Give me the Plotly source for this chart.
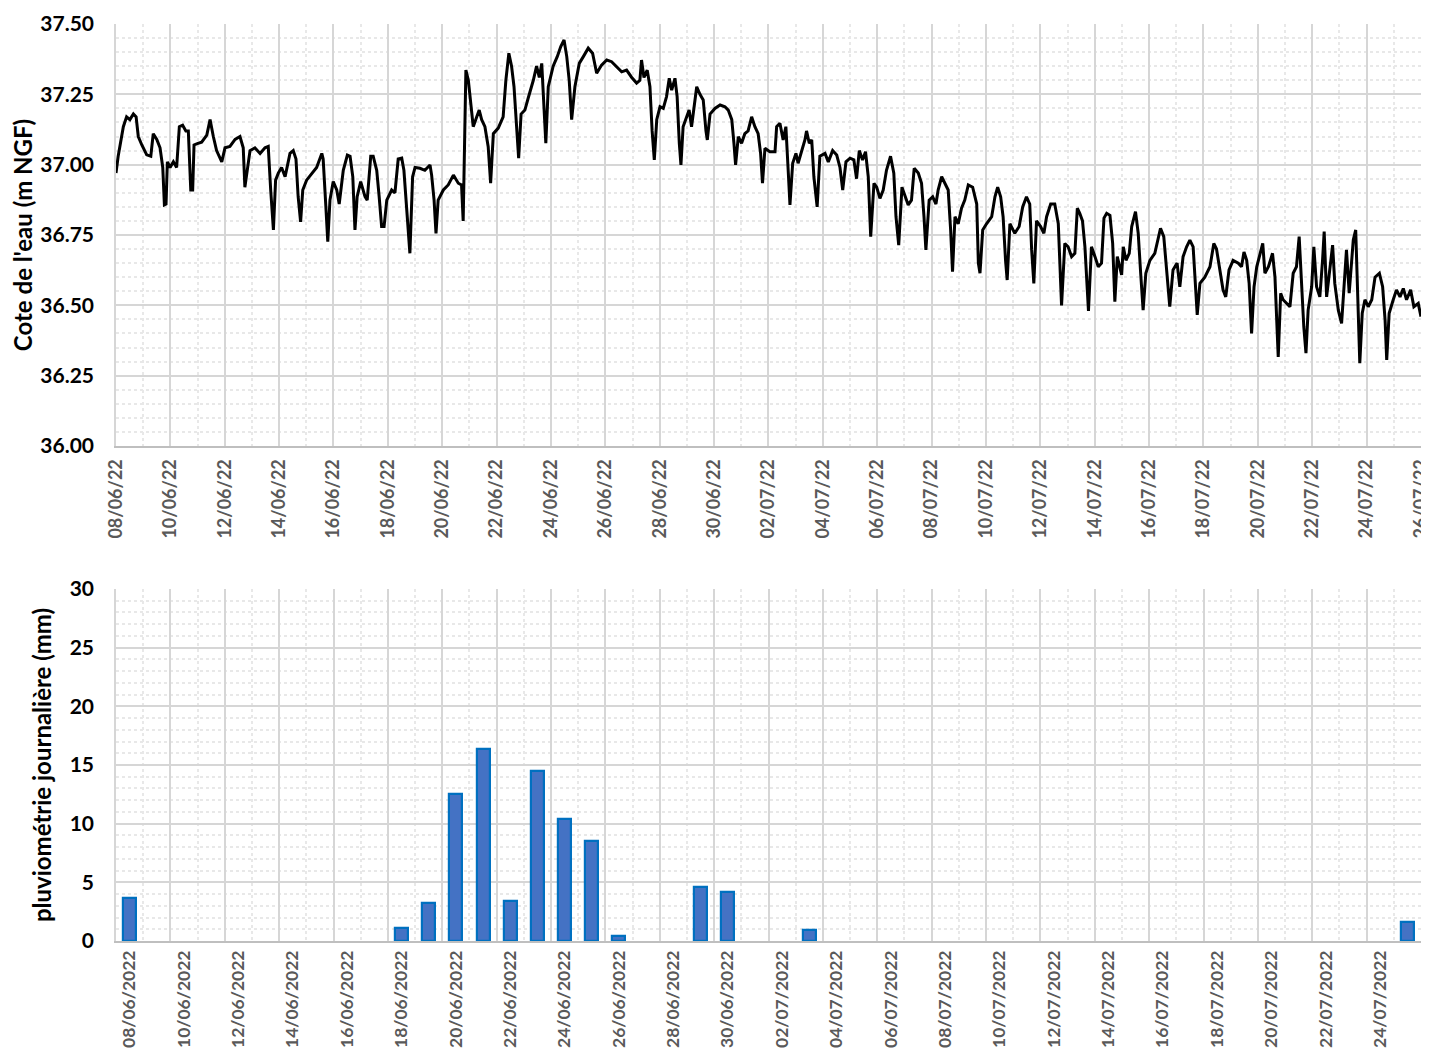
import pandas as pd
import plotly.graph_objects as go

# ---------------- DATA ----------------
series_start = "2022-06-08"

# water level: time offset (days since 08/06/2022 00:00)
level_day_offset = [
    0.00, 0.08, 0.27, 0.39, 0.51, 0.64, 0.74, 0.82, 0.95, 1.13, 1.28, 1.37, 1.50, 1.62, 1.72, 1.78,
    1.84, 1.89, 1.99, 2.11, 2.23, 2.33, 2.45, 2.57, 2.66, 2.75, 2.82, 2.87, 2.99, 3.15, 3.34, 3.46,
    3.58, 3.70, 3.89, 4.01, 4.19, 4.38, 4.56, 4.68, 4.74, 4.83, 4.93, 5.11, 5.30, 5.48, 5.60, 5.69,
    5.79, 5.87, 5.97, 6.09, 6.22, 6.40, 6.52, 6.62, 6.70, 6.79, 6.87, 7.01, 7.20, 7.38, 7.57, 7.62,
    7.72, 7.79, 7.87, 7.99, 8.12, 8.21, 8.36, 8.51, 8.61, 8.71, 8.79, 8.87, 9.00, 9.16, 9.24, 9.37,
    9.46, 9.59, 9.68, 9.77, 9.86, 9.96, 10.14, 10.26, 10.38, 10.51, 10.59, 10.71, 10.81, 10.91, 11.00, 11.18,
    11.36, 11.55, 11.61, 11.70, 11.77, 11.85, 12.04, 12.22, 12.41, 12.59, 12.71, 12.77, 12.87, 12.96, 13.05, 13.14,
    13.27, 13.36, 13.45, 13.57, 13.69, 13.78, 13.88, 14.06, 14.24, 14.34, 14.45, 14.55, 14.64, 14.74, 14.81, 14.90,
    15.04, 15.16, 15.35, 15.47, 15.57, 15.66, 15.74, 15.81, 15.90, 16.08, 16.23, 16.36, 16.48, 16.58, 16.67, 16.76,
    16.88, 17.04, 17.19, 17.37, 17.53, 17.68, 17.86, 18.05, 18.23, 18.41, 18.60, 18.78, 18.97, 19.15, 19.27, 19.33,
    19.42, 19.54, 19.64, 19.72, 19.80, 19.89, 20.01, 20.13, 20.25, 20.35, 20.44, 20.56, 20.64, 20.72, 20.78, 20.86,
    20.99, 21.08, 21.17, 21.26, 21.36, 21.48, 21.60, 21.70, 21.75, 21.85, 22.03, 22.22, 22.40, 22.52, 22.65, 22.73,
    22.79, 22.89, 23.01, 23.13, 23.25, 23.38, 23.50, 23.62, 23.71, 23.78, 23.87, 24.05, 24.24, 24.30, 24.42, 24.54,
    24.64, 24.73, 24.79, 24.89, 25.01, 25.09, 25.22, 25.34, 25.40, 25.50, 25.59, 25.67, 25.79, 25.89, 26.08, 26.20,
    26.36, 26.51, 26.63, 26.73, 26.85, 27.00, 27.14, 27.24, 27.34, 27.46, 27.57, 27.67, 27.76, 27.88, 27.98, 28.10,
    28.22, 28.34, 28.49, 28.61, 28.69, 28.79, 28.91, 29.02, 29.14, 29.26, 29.36, 29.51, 29.63, 29.72, 29.79, 29.91,
    30.04, 30.16, 30.24, 30.37, 30.49, 30.61, 30.70, 30.77, 30.86, 30.98, 31.10, 31.22, 31.35, 31.51, 31.66, 31.72,
    31.78, 31.88, 32.02, 32.21, 32.33, 32.43, 32.54, 32.63, 32.72, 32.78, 32.88, 33.06, 33.22, 33.35, 33.49, 33.61,
    33.68, 33.76, 33.86, 34.01, 34.13, 34.23, 34.38, 34.53, 34.66, 34.78, 34.90, 35.02, 35.15, 35.27, 35.36, 35.45,
    35.55, 35.64, 35.77, 35.88, 36.01, 36.13, 36.25, 36.34, 36.44, 36.56, 36.66, 36.74, 36.83, 36.92, 36.99, 37.05,
    37.15, 37.27, 37.36, 37.50, 37.60, 37.69, 37.78, 37.88, 38.03, 38.21, 38.33, 38.42, 38.54, 38.64, 38.76, 38.88,
    39.03, 39.13, 39.25, 39.38, 39.50, 39.62, 39.68, 39.77, 39.87, 40.05, 40.24, 40.38, 40.48, 40.60, 40.72, 40.82,
    40.94, 41.09, 41.28, 41.40, 41.49, 41.59, 41.68, 41.77, 41.86, 41.96, 42.08, 42.18, 42.26, 42.39, 42.54, 42.63,
    42.75, 42.84, 42.93, 43.06, 43.18, 43.30, 43.42, 43.52, 43.61, 43.69, 43.77, 43.85, 43.98, 44.06, 44.16, 44.28,
    44.38, 44.44, 44.53, 44.62, 44.75, 44.83, 44.96, 45.08, 45.20, 45.26, 45.36, 45.45, 45.51, 45.60, 45.67, 45.75,
    45.84, 45.94, 46.06, 46.19, 46.31, 46.47, 46.59, 46.68, 46.74, 46.83, 46.98, 47.10, 47.23, 47.35, 47.47, 47.62,
    47.74, 47.90, 48.00,
]

# water level (m NGF)
level_m_ngf = [
    36.97, 37.03, 37.135, 37.17, 37.16, 37.18, 37.17, 37.10, 37.07, 37.035, 37.03, 37.11, 37.09, 37.06, 36.99, 36.857,
    36.86, 37.01, 36.99, 37.01, 36.99, 37.135, 37.14, 37.12, 37.12, 36.91, 36.91, 37.07, 37.075, 37.08, 37.105, 37.16,
    37.10, 37.05, 37.01, 37.06, 37.065, 37.09, 37.10, 37.06, 36.92, 36.98, 37.05, 37.06, 37.04, 37.06, 37.065, 36.91,
    36.768, 36.945, 36.97, 36.99, 36.957, 37.04, 37.05, 37.02, 36.886, 36.797, 36.91, 36.945, 36.97, 36.99, 37.04, 37.02,
    36.85, 36.726, 36.874, 36.94, 36.91, 36.86, 36.98, 37.034, 37.03, 36.957, 36.768, 36.886, 36.94, 36.886, 36.874, 37.03,
    37.03, 36.98, 36.886, 36.78, 36.78, 36.874, 36.91, 36.90, 37.02, 37.023, 36.98, 36.815, 36.685, 36.957, 36.99, 36.987,
    36.98, 36.999, 36.963, 36.874, 36.756, 36.874, 36.91, 36.928, 36.963, 36.934, 36.928, 36.80, 37.336, 37.30, 37.218, 37.135,
    37.17, 37.194, 37.16, 37.135, 37.064, 36.934, 37.11, 37.13, 37.17, 37.30, 37.396, 37.35, 37.277, 37.12, 37.023, 37.18,
    37.194, 37.236, 37.30, 37.35, 37.31, 37.36, 37.218, 37.076, 37.277, 37.35, 37.384, 37.42, 37.443, 37.384, 37.30, 37.16,
    37.277, 37.36, 37.384, 37.414, 37.396, 37.325, 37.354, 37.372, 37.366, 37.35, 37.33, 37.336, 37.31, 37.29, 37.30, 37.372,
    37.31, 37.336, 37.277, 37.12, 37.017, 37.16, 37.206, 37.20, 37.242, 37.307, 37.265, 37.307, 37.242, 37.076, 36.999, 37.135,
    37.17, 37.194, 37.135, 37.206, 37.277, 37.25, 37.23, 37.12, 37.088, 37.18, 37.20, 37.212, 37.206, 37.194, 37.16, 37.076,
    36.999, 37.10, 37.076, 37.11, 37.12, 37.17, 37.135, 37.11, 37.04, 36.934, 37.058, 37.046, 37.046, 37.135, 37.147, 37.088,
    37.135, 36.97, 36.857, 37.005, 37.04, 37.005, 37.05, 37.088, 37.12, 37.076, 37.088, 36.957, 36.85, 37.03, 37.04, 37.01,
    37.05, 37.034, 36.99, 36.91, 37.01, 37.023, 37.017, 36.95, 37.05, 37.017, 37.046, 36.957, 36.744, 36.934, 36.92, 36.88,
    36.91, 36.98, 37.03, 36.97, 36.815, 36.714, 36.92, 36.886, 36.857, 36.874, 36.987, 36.97, 36.934, 36.815, 36.697, 36.874,
    36.886, 36.86, 36.91, 36.957, 36.934, 36.91, 36.768, 36.62, 36.815, 36.79, 36.845, 36.874, 36.928, 36.92, 36.86, 36.65,
    36.614, 36.768, 36.79, 36.815, 36.886, 36.92, 36.886, 36.815, 36.66, 36.59, 36.79, 36.756, 36.78, 36.85, 36.886, 36.86,
    36.697, 36.578, 36.80, 36.78, 36.756, 36.815, 36.86, 36.86, 36.79, 36.50, 36.72, 36.708, 36.673, 36.685, 36.845, 36.827,
    36.80, 36.708, 36.48, 36.708, 36.673, 36.637, 36.65, 36.81, 36.827, 36.82, 36.72, 36.513, 36.673, 36.637, 36.608, 36.708,
    36.66, 36.685, 36.78, 36.833, 36.756, 36.614, 36.483, 36.614, 36.66, 36.685, 36.732, 36.774, 36.744, 36.626, 36.495, 36.626,
    36.65, 36.566, 36.673, 36.708, 36.732, 36.708, 36.59, 36.466, 36.578, 36.60, 36.637, 36.72, 36.70, 36.626, 36.555, 36.53,
    36.626, 36.66, 36.65, 36.637, 36.69, 36.66, 36.578, 36.40, 36.566, 36.637, 36.685, 36.72, 36.614, 36.637, 36.685, 36.60,
    36.317, 36.543, 36.52, 36.507, 36.495, 36.614, 36.637, 36.744, 36.566, 36.424, 36.33, 36.483, 36.566, 36.708, 36.566, 36.53,
    36.66, 36.762, 36.53, 36.60, 36.714, 36.578, 36.483, 36.436, 36.60, 36.697, 36.543, 36.66, 36.732, 36.768, 36.543, 36.294,
    36.472, 36.52, 36.495, 36.52, 36.60, 36.614, 36.566, 36.448, 36.306, 36.472, 36.52, 36.555, 36.53, 36.56, 36.52, 36.555,
    36.495, 36.507, 36.46,
]

# daily rainfall (mm), one value per day from 08/06/2022 to 25/07/2022
rain_mm = [
    3.7, 0, 0, 0, 0, 0, 0, 0, 0, 0,
    1.1, 3.2, 12.5, 16.4, 3.4, 14.5, 10.4, 8.5, 0.4, 0,
    0, 4.6, 4.2, 0, 0, 0.9, 0, 0, 0, 0,
    0, 0, 0, 0, 0, 0, 0, 0, 0, 0,
    0, 0, 0, 0, 0, 0, 0, 1.6,
]

level_title = "Cote de l'eau (m NGF)"
rain_title = "pluviométrie journalière (mm)"

# ---------------- BUILD ----------------
DAY = 86400000
start = pd.Timestamp(series_start)
level_time = start + pd.to_timedelta(level_day_offset, unit="D")
rain_days = pd.date_range(series_start, periods=len(rain_mm), freq="D")
rain_center = rain_days + pd.Timedelta(hours=12)
x_end = rain_days[-1] + pd.Timedelta(days=1)
x_range = [start, x_end]
x_range_top = [start, x_end + pd.Timedelta(minutes=2)]

FONT = "Lato"
GRID_MAJOR = "#D6D6D6"
GRID_MINOR = "#E8E8E8"

fig = go.Figure()
fig.add_trace(go.Scatter(
    x=level_time, y=level_m_ngf, mode="lines",
    line=dict(color="black", width=3), xaxis="x", yaxis="y", showlegend=False,
))
fig.add_trace(go.Bar(
    x=rain_center, y=[v if v > 0 else None for v in rain_mm],
    width=0.48 * DAY,
    marker=dict(color="#4472C4", line=dict(color="#0070C0", width=2.2)),
    xaxis="x2", yaxis="y2", showlegend=False,
))
fig.add_trace(go.Scatter(
    x=rain_center, y=rain_mm, mode="none", hoverinfo="skip",
    xaxis="x3", yaxis="y2", showlegend=False,
))

# page body has an 8px margin at top/left: the figure is offset by it
W, H = 1421, 1047
OFF = 8
dom_x = [(116 - OFF) / W, (1421 - OFF) / W]

xtickfont = dict(family=FONT, size=18, color="#595959", weight="bold")
xtickfont2 = dict(family=FONT, size=17.5, color="#595959", weight="bold")
ytickfont = dict(family=FONT, size=21, color="black", weight="bold")
titlefont = dict(family=FONT, size=24, color="black", weight="bold")

fig.update_layout(
    width=W, height=H,
    margin=dict(l=0, r=0, t=0, b=0),
    paper_bgcolor="white", plot_bgcolor="white",
    font=dict(family=FONT),
    bargap=0,
    xaxis=dict(
        domain=dom_x, anchor="y", type="date", range=x_range_top, automargin=False,
        tick0=series_start, dtick=2 * DAY, tickformat="%d/%m/%y", tickangle=-90,
        tickfont=xtickfont, ticks="", ticklabelstandoff=4, ticklabeloverflow="allow",
        showgrid=True, gridcolor=GRID_MAJOR, gridwidth=1.5,
        minor=dict(tick0=series_start, dtick=DAY, showgrid=True, gridcolor=GRID_MINOR,
                   griddash="dot", gridwidth=1.5),
        showline=True, linecolor="#BFBFBF", linewidth=2, zeroline=False,
    ),
    yaxis=dict(
        domain=[(H - (446 - OFF)) / H, (H - (24 - OFF)) / H], anchor="x", automargin=False,
        range=[36, 37.5], tick0=36, dtick=0.25, tickformat=".2f",
        tickfont=ytickfont, ticks="", ticklabelstandoff=16, ticklabeloverflow="allow",
        showgrid=True, gridcolor=GRID_MAJOR, gridwidth=1.5,
        minor=dict(dtick=0.05, showgrid=True, gridcolor=GRID_MINOR, griddash="dot", gridwidth=1.5),
        showline=True, linecolor=GRID_MAJOR, linewidth=1.5, zeroline=False,
        title=dict(text=level_title, font=titlefont, standoff=6),
    ),
    xaxis2=dict(
        domain=dom_x, anchor="y2", type="date", range=x_range, automargin=False,
        tick0=series_start, dtick=2 * DAY, showticklabels=False, ticks="",
        showgrid=True, gridcolor=GRID_MAJOR, gridwidth=1.5,
        minor=dict(tick0=series_start, dtick=DAY, showgrid=True, gridcolor=GRID_MINOR,
                   griddash="dot", gridwidth=1.5),
        showline=True, linecolor="#BFBFBF", linewidth=2, zeroline=False,
    ),
    xaxis3=dict(
        overlaying="x2", anchor="y2", side="bottom", type="date", range=x_range, automargin=False,
        tick0=rain_center[0], dtick=2 * DAY, tickformat="%d/%m/%Y", tickangle=-90,
        tickfont=xtickfont2, ticks="", ticklabelstandoff=5, ticklabeloverflow="allow",
        showgrid=False, zeroline=False,
    ),
    yaxis2=dict(
        domain=[(H - (941 - OFF)) / H, (H - (589 - OFF)) / H], anchor="x2", automargin=False,
        range=[0, 30], tick0=0, dtick=5,
        tickfont=ytickfont, ticks="", ticklabelstandoff=16, ticklabeloverflow="allow",
        showgrid=True, gridcolor=GRID_MAJOR, gridwidth=1.5,
        minor=dict(dtick=1, showgrid=True, gridcolor=GRID_MINOR, griddash="dot", gridwidth=1.5),
        showline=True, linecolor=GRID_MAJOR, linewidth=1.5, zeroline=False,
        title=dict(text=rain_title, font=titlefont, standoff=11),
    ),
)

fig.write_html("out.html")
